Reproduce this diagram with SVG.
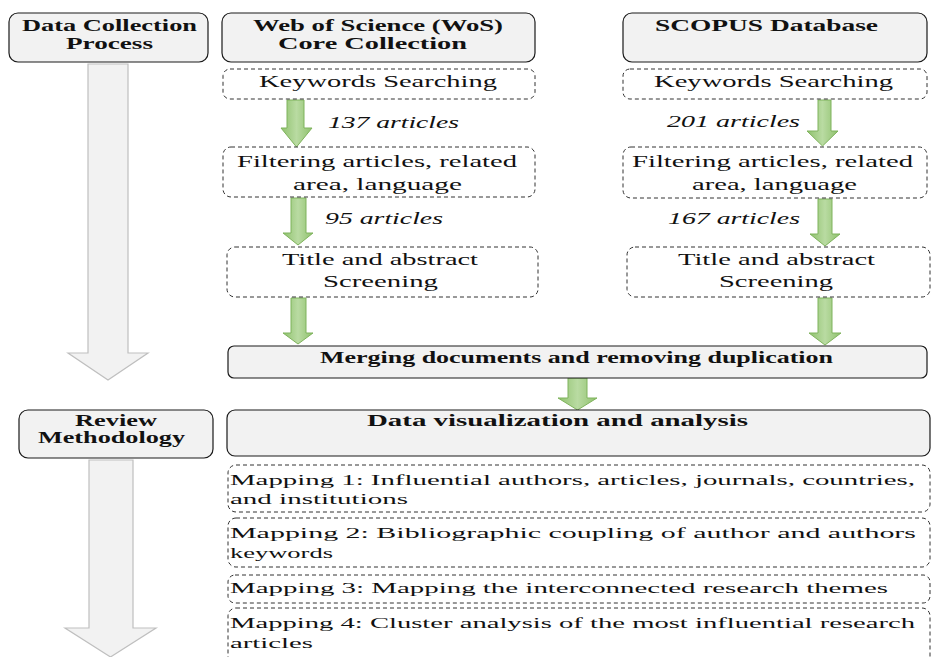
<svg xmlns="http://www.w3.org/2000/svg" width="931" height="657" viewBox="0 0 931 657">
<defs>
<linearGradient id="gg" x1="0" y1="0" x2="1" y2="0">
<stop offset="0" stop-color="#8fc16d"/>
<stop offset="0.5" stop-color="#b9dba2"/>
<stop offset="1" stop-color="#8fc16d"/>
</linearGradient>
<style>
.hdr{fill:#f2f2f2;stroke:#1a1a1a;stroke-width:1.2}
.dash{fill:#ffffff;stroke:#333333;stroke-width:1;stroke-dasharray:4 3}
.big{fill:#f2f2f2;stroke:#bfbfbf;stroke-width:1.2}
.grn{fill:url(#gg);stroke:#7fb35c;stroke-width:1}
text{font-family:"Liberation Serif","Times New Roman",serif;fill:#111111}
.b{font-weight:bold;font-size:16px}
.r{font-size:17px}
.m{font-size:15.5px}
.i{font-style:italic;font-size:17px}
</style>
</defs>
<rect width="931" height="657" fill="#ffffff"/>

<g id="connectors">
<path class="big" d="M88,64 H128 V353 H148 L108,380 L68,353 H88 Z"/>
<path class="big" d="M89,460 H133 V628 H156 L110.5,657 L65,628 H89 Z"/>
<path class="grn" d="M287,100 H304 V128 H312 L296.5,147 L281,128 H287 Z"/>
<path class="grn" d="M291,198 H306 V233 H313 L298,245 L283,233 H291 Z"/>
<path class="grn" d="M291,298 H306 V333 H313 L298,344 L283,333 H291 Z"/>
<path class="grn" d="M818,100 H831 V131 H838 L822.5,146 L807,131 H818 Z"/>
<path class="grn" d="M818,199 H832 V234 H840 L825,246 L810,234 H818 Z"/>
<path class="grn" d="M818,298 H832 V333 H841 L825,345 L809,333 H818 Z"/>
<path class="grn" d="M568,378 H587 V398 H597 L577.5,410 L558,398 H568 Z"/>
<text class="i" x="328" y="128" textLength="131" lengthAdjust="spacingAndGlyphs">137 articles</text>
<text class="i" x="325" y="224" textLength="118" lengthAdjust="spacingAndGlyphs">95 articles</text>
<text class="i" x="667" y="127" textLength="133" lengthAdjust="spacingAndGlyphs">201 articles</text>
<text class="i" x="668" y="224" textLength="132" lengthAdjust="spacingAndGlyphs">167 articles</text>
</g>

<g id="n-data-collection">
<rect class="hdr" x="9" y="13" width="199" height="49" rx="9"/>
<text class="b" x="22" y="31" textLength="175" lengthAdjust="spacingAndGlyphs">Data Collection</text>
<text class="b" x="66" y="49" textLength="87" lengthAdjust="spacingAndGlyphs">Process</text>
</g>

<g id="n-wos">
<rect class="hdr" x="222" y="13" width="313" height="49" rx="9"/>
<text class="b" x="253" y="31" textLength="250" lengthAdjust="spacingAndGlyphs">Web of Science (WoS)</text>
<text class="b" x="278" y="49" textLength="189" lengthAdjust="spacingAndGlyphs">Core Collection</text>
</g>

<g id="n-scopus">
<rect class="hdr" x="623" y="13" width="304" height="49" rx="9"/>
<text class="b" x="655" y="31" textLength="223" lengthAdjust="spacingAndGlyphs">SCOPUS Database</text>
</g>

<g id="n-wos-keywords">
<rect class="dash" x="223" y="69" width="312" height="30" rx="7"/>
<text class="r" x="259" y="87" textLength="238" lengthAdjust="spacingAndGlyphs">Keywords Searching</text>
</g>

<g id="n-scopus-keywords">
<rect class="dash" x="623" y="69" width="304" height="30" rx="7"/>
<text class="r" x="654" y="87" textLength="239" lengthAdjust="spacingAndGlyphs">Keywords Searching</text>
</g>

<g id="n-wos-filter">
<rect class="dash" x="223" y="147" width="312" height="50" rx="8"/>
<text class="r" x="237" y="167" textLength="280" lengthAdjust="spacingAndGlyphs">Filtering articles, related</text>
<text class="r" x="293" y="190" textLength="169" lengthAdjust="spacingAndGlyphs">area, language</text>
</g>

<g id="n-scopus-filter">
<rect class="dash" x="623" y="147" width="304" height="51" rx="8"/>
<text class="r" x="632" y="167" textLength="281" lengthAdjust="spacingAndGlyphs">Filtering articles, related</text>
<text class="r" x="692" y="190" textLength="165" lengthAdjust="spacingAndGlyphs">area, language</text>
</g>

<g id="n-wos-title">
<rect class="dash" x="227" y="247" width="311" height="50" rx="8"/>
<text class="r" x="282" y="265" textLength="196" lengthAdjust="spacingAndGlyphs">Title and abstract</text>
<text class="r" x="323" y="287" textLength="115" lengthAdjust="spacingAndGlyphs">Screening</text>
</g>

<g id="n-scopus-title">
<rect class="dash" x="627" y="247" width="303" height="50" rx="8"/>
<text class="r" x="678" y="265" textLength="197" lengthAdjust="spacingAndGlyphs">Title and abstract</text>
<text class="r" x="719" y="287" textLength="114" lengthAdjust="spacingAndGlyphs">Screening</text>
</g>

<g id="n-merging">
<rect class="hdr" x="228" y="346" width="699" height="32" rx="6"/>
<text class="b" x="320" y="363" textLength="513" lengthAdjust="spacingAndGlyphs">Merging documents and removing duplication</text>
</g>

<g id="n-review">
<rect class="hdr" x="19" y="410" width="194" height="48" rx="9"/>
<text class="b" x="75" y="426" textLength="82" lengthAdjust="spacingAndGlyphs">Review</text>
<text class="b" x="38" y="443" textLength="147" lengthAdjust="spacingAndGlyphs">Methodology</text>
</g>

<g id="n-datavis">
<rect class="hdr" x="227" y="410" width="703" height="46" rx="8"/>
<text class="b" x="367" y="426" textLength="381" lengthAdjust="spacingAndGlyphs">Data visualization and analysis</text>
</g>

<g id="n-mapping1">
<rect class="dash" x="228" y="465" width="702" height="47" rx="8"/>
<text class="m" x="230" y="485" textLength="685" lengthAdjust="spacingAndGlyphs">Mapping 1: Influential authors, articles, journals, countries,</text>
<text class="m" x="230" y="504" textLength="178" lengthAdjust="spacingAndGlyphs">and institutions</text>
</g>

<g id="n-mapping2">
<rect class="dash" x="228" y="518" width="702" height="49" rx="8"/>
<text class="m" x="230" y="538" textLength="686" lengthAdjust="spacingAndGlyphs">Mapping 2: Bibliographic coupling of author and authors</text>
<text class="m" x="230" y="558" textLength="103" lengthAdjust="spacingAndGlyphs">keywords</text>
</g>

<g id="n-mapping3">
<rect class="dash" x="228" y="575" width="702" height="28" rx="7"/>
<text class="m" x="230" y="593" textLength="658" lengthAdjust="spacingAndGlyphs">Mapping 3: Mapping the interconnected research themes</text>
</g>

<g id="n-mapping4">
<rect class="dash" x="228" y="608" width="702" height="58" rx="8"/>
<text class="m" x="230" y="628" textLength="685" lengthAdjust="spacingAndGlyphs">Mapping 4: Cluster analysis of the most influential research</text>
<text class="m" x="230" y="648" textLength="83" lengthAdjust="spacingAndGlyphs">articles</text>
</g>
</svg>
